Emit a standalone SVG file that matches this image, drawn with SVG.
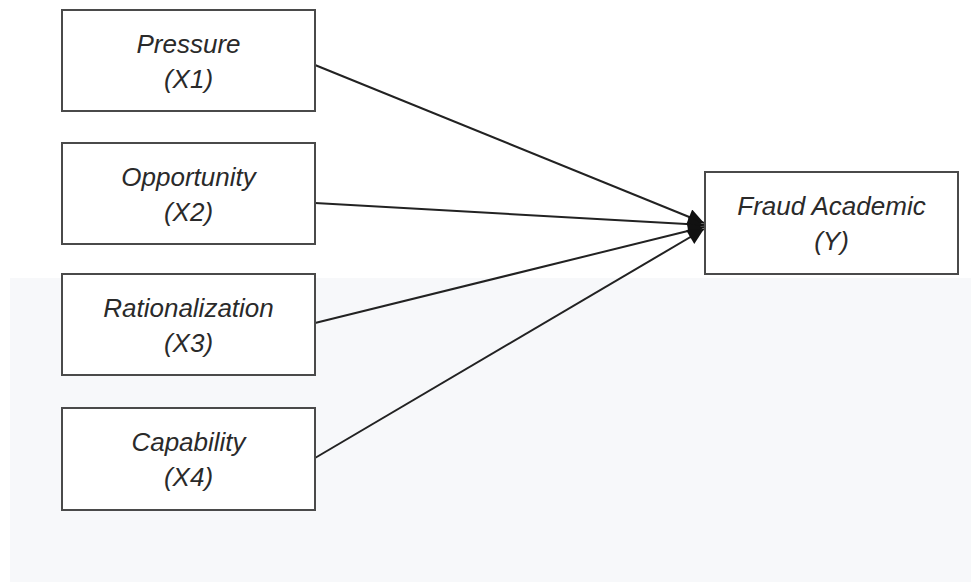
<svg xmlns="http://www.w3.org/2000/svg" width="971" height="582" viewBox="0 0 971 582">
<style>
.box{fill:#fff;stroke:#4a4a4a;stroke-width:2}
.t{font-family:"Liberation Sans",Arial,sans-serif;font-style:italic;font-size:26px;fill:#2a2a2a;text-anchor:middle}
.c{stroke:#222;stroke-width:2;fill:none;marker-end:url(#ah)}
</style>
<defs>
<marker id="ah" markerWidth="10" markerHeight="10" refX="9" refY="5" orient="auto" markerUnits="userSpaceOnUse">
<path d="M0,0 L10,5 L0,10 L2,5 Z" fill="#111"/>
</marker>
<marker id="ah2" viewBox="0 0 10 10" markerWidth="18" markerHeight="16" refX="10" refY="5" orient="auto" markerUnits="userSpaceOnUse">
<path d="M0,0 L10,5 L0,10 Z" fill="#111"/>
</marker>
</defs>
<rect x="0" y="0" width="971" height="582" fill="#fff"/>
<rect x="10" y="278" width="961" height="304" fill="#f7f8fa"/>
<g id="connectors">
<line x1="315" y1="65" x2="704" y2="223" stroke="#222" stroke-width="2" marker-end="url(#ah2)"/>
<line x1="315" y1="203" x2="704" y2="225" stroke="#222" stroke-width="2" marker-end="url(#ah2)"/>
<line x1="315" y1="323" x2="704" y2="227" stroke="#222" stroke-width="2" marker-end="url(#ah2)"/>
<line x1="315" y1="458" x2="704" y2="229" stroke="#222" stroke-width="2" marker-end="url(#ah2)"/>
</g>
<g id="pressure">
<rect class="box" x="62" y="10" width="253" height="101"/>
<text class="t" x="188.5" y="53">Pressure</text>
<text class="t" x="188.5" y="88">(X1)</text>
</g>
<g id="opportunity">
<rect class="box" x="62" y="143" width="253" height="101"/>
<text class="t" x="188.5" y="186">Opportunity</text>
<text class="t" x="188.5" y="221">(X2)</text>
</g>
<g id="rationalization">
<rect class="box" x="62" y="274" width="253" height="101"/>
<text class="t" x="188.5" y="317">Rationalization</text>
<text class="t" x="188.5" y="352">(X3)</text>
</g>
<g id="capability">
<rect class="box" x="62" y="408" width="253" height="102"/>
<text class="t" x="188.5" y="451">Capability</text>
<text class="t" x="188.5" y="486">(X4)</text>
</g>
<g id="fraud">
<rect class="box" x="705" y="172" width="253" height="102"/>
<text class="t" x="831.5" y="215">Fraud Academic</text>
<text class="t" x="831.5" y="250">(Y)</text>
</g>
</svg>
